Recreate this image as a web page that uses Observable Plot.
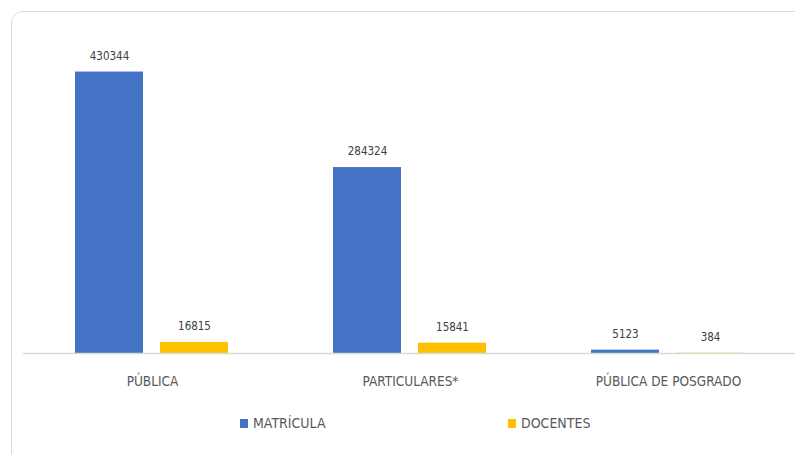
<!DOCTYPE html>
<html><head><meta charset="utf-8">
<script src="https://cdn.jsdelivr.net/npm/d3@7"></script>
<script src="https://cdn.jsdelivr.net/npm/@observablehq/plot@0.6"></script>
<style>
html,body{margin:0;padding:0;background:#fff;overflow:hidden;width:795px;height:454px;}
#frame{position:absolute;left:11px;top:11px;width:900px;height:600px;border:1px solid #d9d9d9;border-radius:12px;box-sizing:border-box;}
#chart{position:absolute;left:0;top:0;width:900px;}
#chart svg{max-width:none;}
#legend{position:absolute;left:0;top:413px;width:795px;height:24px;font-family:"DejaVu Sans Condensed","Liberation Sans Narrow",sans-serif;font-size:14px;color:#595959;}
.item{position:absolute;top:0;display:flex;align-items:center;height:20px;}
.sw{width:8px;height:9px;margin-right:5px;}
</style></head>
<body>
<div id="frame"></div>
<div id="chart"></div>
<div id="legend"></div>
<script>
const categories = ["PÚBLICA", "PARTICULARES*", "PÚBLICA DE POSGRADO"];
const series = ["MATRÍCULA", "DOCENTES"];
const matricula = [430344, 284324, 5123];
const docentes = [16815, 15841, 384];
const colors = ["#4472C4", "#FFC000"];

const data = [];
categories.forEach((c, i) => {
  data.push({cat: c, serie: series[0], value: matricula[i]});
  data.push({cat: c, serie: series[1], value: docentes[i]});
});

const font = '"DejaVu Sans Condensed","Liberation Sans Narrow",sans-serif';
const chart = Plot.plot({
  width: 800,
  height: 400,
  marginLeft: 22,
  marginRight: 2.5,
  marginTop: 26,
  marginBottom: 47,
  style: {fontFamily: font, background: "transparent", overflow: "visible"},
  fx: {domain: categories, paddingInner: 0, paddingOuter: 0, label: null},
  x: {domain: series, paddingInner: 0.198, paddingOuter: 0.602, axis: null},
  y: {domain: [0, 500000], axis: null},
  color: {domain: series, range: colors},
  marks: [
    Plot.barY(data, {fx: "cat", x: "serie", y: "value", fill: "serie"}),
    Plot.ruleY([0], {stroke: "#d9d9d9", strokeWidth: 1.5}),
    Plot.text(data, {fx: "cat", x: "serie", y: "value", text: d => String(d.value), dy: -16, fill: "#404040", fontSize: 11.5}),
    Plot.axisFx({anchor: "bottom", tickSize: 0, tickPadding: 23, fontSize: 13.5, color: "#595959", label: null})
  ]
});
document.getElementById("chart").appendChild(chart);

const legend = document.getElementById("legend");
const lx = [240, 508];
series.forEach((s, i) => {
  const it = document.createElement("div");
  it.className = "item";
  it.style.left = lx[i] + "px";
  const sw = document.createElement("span");
  sw.className = "sw";
  sw.style.background = colors[i];
  const t = document.createElement("span");
  t.textContent = s;
  it.appendChild(sw); it.appendChild(t);
  legend.appendChild(it);
});
</script>
</body></html>
